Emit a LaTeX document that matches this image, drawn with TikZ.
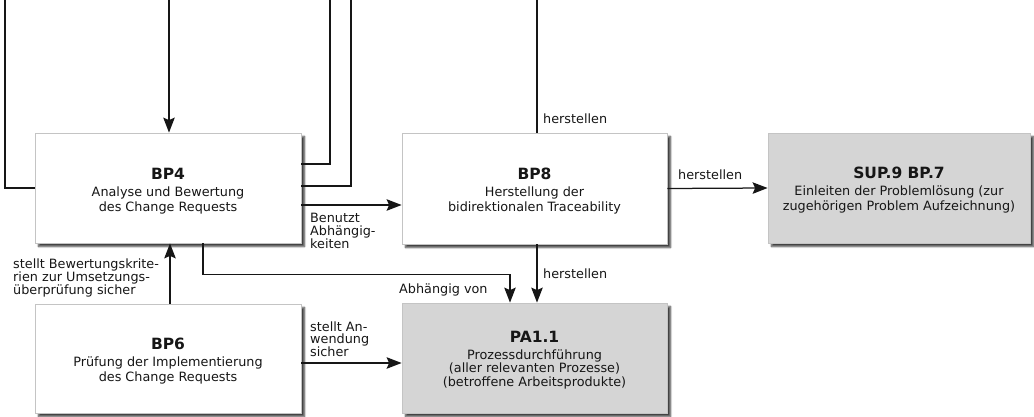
\documentclass[tikz,border=0pt]{standalone}
\usepackage{fontspec}
\setmainfont{DejaVu Sans}
\usetikzlibrary{arrows.meta,shadows.blur}
\definecolor{boxgray}{RGB}{213,213,213}
\definecolor{edgegray}{RGB}{196,196,196}
\definecolor{ink}{RGB}{22,22,22}
\newcommand{\boxtitle}[1]{{\fontsize{15.5}{17}\selectfont\bfseries #1}}
\tikzset{
  procbox/.style={draw=edgegray, line width=0.8pt, fill=white,
    minimum width=266pt, minimum height=110pt, inner sep=0pt,
    blur shadow={shadow xshift=3.5pt, shadow yshift=-3.5pt,
      shadow blur radius=1.8pt, shadow blur steps=6, shadow opacity=75}},
  extbox/.style={procbox, fill=boxgray},
  boxtext/.style={align=center, inner sep=0pt, text=ink,
    font=\fontsize{12.8}{15}\selectfont},
  link/.style={draw=ink, line width=1.25pt},
  arr/.style={link, -{Stealth[length=15pt, width=11.5pt, inset=2.5pt]}},
  lbl/.style={align=left, inner sep=0pt, text=ink,
    font=\fontsize{12.8}{13}\selectfont},
}
\begin{document}
\begin{tikzpicture}[x=1pt, y=-1pt]
\useasboundingbox (0,0) rectangle (1034,417);

% process boxes
\node[procbox] (bp4) at (168,188) {};
\node[procbox, minimum width=265pt, minimum height=111pt] (bp8) at (534.5,188.5) {};
\node[extbox, minimum width=262pt] (sup) at (899,188) {};
\node[extbox, minimum width=265pt] (pa) at (534.5,358) {};
\node[procbox, minimum height=109pt] (bp6) at (168,358.5) {};

% box texts
\node[boxtext] (bp4t) at ([yshift=-3.5pt]bp4.center)
  {\boxtitle{BP4}\\[2pt]Analyse und Bewertung\\des Change Requests};
\node[boxtext] (bp8t) at ([yshift=-3pt]bp8.center)
  {\boxtitle{BP8}\\[2pt]Herstellung der\\bidirektionalen Traceability};
\node[boxtext] (supt) at ([yshift=-2.5pt]sup.center)
  {\boxtitle{SUP.9 BP.7}\\[2pt]Einleiten der Problemlösung (zur\\zugehörigen Problem Aufzeichnung)};
\node[boxtext, font=\fontsize{12.8}{13.5}\selectfont] (pat) at ([yshift=-2pt]pa.center)
  {\boxtitle{PA1.1}\\[3.5pt]Prozessdurchführung\\(aller relevanten Prozesse)\\(betroffene Arbeitsprodukte)};
\node[boxtext] (bp6t) at ([yshift=-3pt]bp6.center)
  {\boxtitle{BP6}\\[2pt]Prüfung der Implementierung\\des Change Requests};

% connectors entering from above
\coordinate (lp) at (5,-2);
\coordinate (in4) at (169,-2);
\coordinate (rp1) at (330,-2);
\coordinate (rp2) at (351,-2);
\coordinate (tp8) at (537,-2);
\draw[link] (lp) |- (bp4.west);
\draw[arr] (in4) -- (in4 |- bp4.north);
\draw[link] (rp1) |- ([yshift=24pt]bp4.east);
\draw[link] (rp2) |- ([yshift=2pt]bp4.east);
\draw[link] (tp8) -- (tp8 |- bp8.north);

% connectors between boxes
\coordinate (u4) at ([yshift=-17pt]bp4.east);
\draw[arr] (u4) -- (u4 -| bp8.west);
\draw[arr] (bp8.east) -- (sup.west);
\draw[arr] ([xshift=2.5pt]bp8.south) -- ([xshift=2.5pt]pa.north);
\draw[arr] ([xshift=35pt]bp4.south) -- ++(0,31) -| ([xshift=-24.5pt]pa.north);
\draw[arr] ([xshift=2pt]bp6.north) -- ([xshift=2pt]bp4.south);
\coordinate (u6) at ([yshift=-4.5pt]bp6.east);
\draw[arr] (u6) -- (u6 -| pa.west);

% connector labels
\node[lbl, anchor=base west] (l1) at (543,124) {herstellen};
\node[lbl, anchor=base west] (l2) at (678,180) {herstellen};
\node[lbl, anchor=base west] (l3) at (543,278) {herstellen};
\node[lbl, anchor=base west] (l4) at (399,293) {Abhängig von};
\node[lbl, anchor=north west] (l5) at (310,212.5) {Benutzt\\Abhängig-\\keiten};
\node[lbl, anchor=north west] (l6) at (13,258.5) {stellt Bewertungskrite-\\rien zur Umsetzungs-\\überprüfung sicher};
\node[lbl, anchor=north west, font=\fontsize{12.8}{12}\selectfont] (l7) at (310,321.5) {stellt An-\\wendung\\sicher};
\end{tikzpicture}
\end{document}
